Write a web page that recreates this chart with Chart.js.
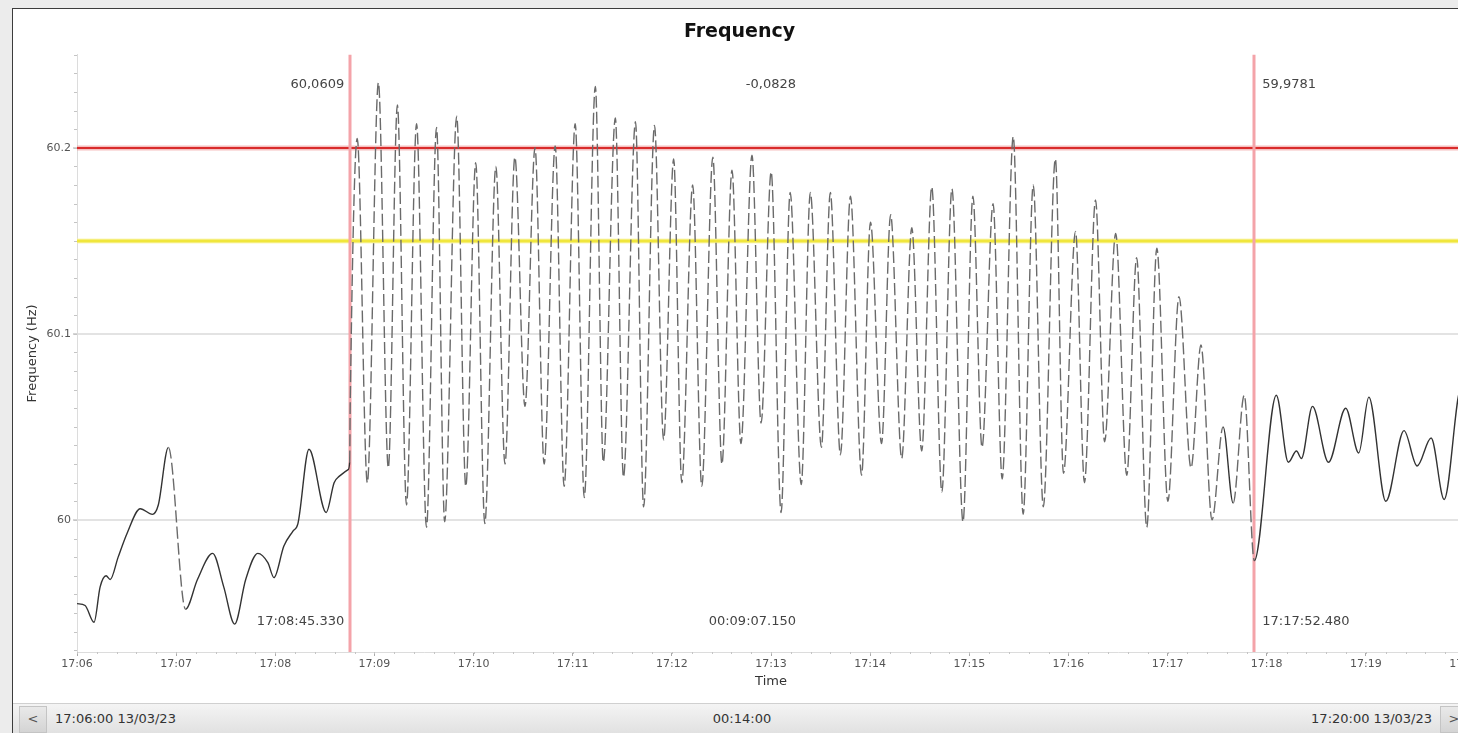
<!DOCTYPE html>
<html>
<head>
<meta charset="utf-8">
<title>Frequency</title>
<script src="https://cdn.jsdelivr.net/npm/chart.js@4.4.1/dist/chart.umd.min.js"></script>
<style>
  html, body { margin: 0; padding: 0; width: 1458px; height: 733px; overflow: hidden; background: #ececec; font-family: "DejaVu Sans", sans-serif; }
  #panel { position: absolute; left: 12px; top: 8px; width: 1480px; height: 740px; border: 1px solid #3c3c3c; background: #fff; }
  #chart { position: absolute; left: 14px; top: 9px; }
  #bar { position: absolute; left: 13px; top: 703px; width: 1480px; height: 31px; background: linear-gradient(#f4f4f4, #e0e0e0); border-top: 1px solid #d0d0d0; font-size: 13px; color: #333; }
  #bar span { position: absolute; top: 7px; white-space: nowrap; }
  .btn { position: absolute; top: 2px; width: 26px; height: 25px; background: linear-gradient(#e9e9e9, #d4d4d4); border: 1px solid #c4c4c4; color: #555; text-align: center; line-height: 24px; font-size: 13px; }
</style>
</head>
<body>
<div id="panel"></div>
<canvas id="chart" width="1480" height="693"></canvas>
<div id="bar">
  <div class="btn" style="left:6px">&lt;</div>
  <span id="barStart" style="left:42px"></span>
  <span id="barSpan" style="left:729px; transform:translateX(-50%)"></span>
  <span id="barEnd" style="right:61px"></span>
  <div class="btn" style="left:1427px">&gt;</div>
</div>
<script>
// time axis in seconds after 17:06:00 on 13/03/23
const startHour = 17;
const startMinute = 6;
const startDate = "13/03/23";
const axisStart = 0;
const axisEnd = 840;

// frequency trace (Hz) at its turning points
const timeSec = [
  0, 4.9, 10.3, 14.0, 17.6, 20.1, 24.9, 30.4, 38.3, 45.6, 49.2, 55.3, 65.7, 72.9, 82.1, 88.8,
  95.4, 102.1, 109.4, 115.5, 119.2, 125.2, 130.7, 133.7, 140.4, 150.8, 155.6, 158.1, 164.1, 165.0, 165.33,
  169.6, 175.7, 182.4, 188.4, 193.9, 199.4, 205.5, 211.5, 217.6, 222.5, 229.8, 235.3, 241.3, 246.8,
  253.5, 259.0, 265.0, 271.1, 277.2, 282.7, 289.4, 294.8, 301.5, 307.0, 313.7, 318.5, 325.8, 330.7,
  338.0, 342.9, 349.5, 355.0, 361.1, 366.0, 372.6, 378.1, 384.8, 390.3, 396.4, 401.8, 408.5, 414.0,
  420.1, 426.1, 431.6, 438.3, 443.8, 450.5, 455.9, 462.0, 468.1, 474.8, 480.2, 486.9, 492.4, 499.1,
  505.2, 511.2, 517.3, 523.4, 529.5, 536.2, 542.2, 547.7, 554.4, 559.9, 566.6, 572.6, 578.7, 584.8,
  592.1, 597.0, 604.3, 609.7, 616.4, 621.9, 628.6, 635.3, 641.3, 647.4, 653.5, 660.2, 666.9, 674.2,
  680.2, 686.9, 693.6, 699.7, 706.4, 712.48,
  725.8, 733.1, 738.0, 741.0, 747.7, 757.4, 767.8, 775.7, 781.8, 792.1, 803.1, 811.0, 819.5, 827.4, 837.7, 840
];
const freqHz = [
  59.955, 59.954, 59.945, 59.964, 59.970, 59.968, 59.980, 59.993, 60.006, 60.003, 60.008, 60.039, 59.952, 59.968, 59.982, 59.964,
  59.944, 59.968, 59.982, 59.977, 59.969, 59.986, 59.994, 59.998, 60.038, 60.004, 60.020, 60.023, 60.027, 60.031, 60.0609,
  60.205, 60.020, 60.235, 60.028, 60.223, 60.008, 60.213, 59.996, 60.211, 59.999, 60.217, 60.018, 60.192, 59.998,
  60.190, 60.030, 60.195, 60.061, 60.200, 60.030, 60.201, 60.018, 60.213, 60.012, 60.233, 60.031, 60.216, 60.023,
  60.214, 60.007, 60.212, 60.043, 60.194, 60.020, 60.180, 60.018, 60.195, 60.030, 60.188, 60.041, 60.196, 60.052,
  60.187, 60.004, 60.176, 60.019, 60.176, 60.039, 60.176, 60.035, 60.174, 60.024, 60.160, 60.041, 60.164, 60.033,
  60.157, 60.037, 60.179, 60.015, 60.178, 59.999, 60.174, 60.039, 60.170, 60.022, 60.206, 60.003, 60.180, 60.007,
  60.194, 60.025, 60.155, 60.020, 60.172, 60.042, 60.154, 60.024, 60.141, 59.996, 60.146, 60.010, 60.120, 60.028,
  60.094, 60.000, 60.050, 60.009, 60.067, 59.9781,
  60.067, 60.031, 60.037, 60.033, 60.061, 60.031, 60.060, 60.036, 60.066, 60.010, 60.048, 60.029, 60.044, 60.011, 60.071, 60.068
];

// y axis
const yMin = 59.929;
const yMax = 60.25;
const yStep = 0.1;

// limit lines and cursors
const limitValues = [60.2, 60.15];
const limitColors = ["#d92b2b", "#f0e63c"];
const cursorTimes = [165.33, 712.48];

function pad(n) {
  return String(n).padStart(2, "0");
}

function hms(total, withSec, withMs) {
  const h = Math.floor(total / 3600);
  const m = Math.floor((total % 3600) / 60);
  const s = total % 60;
  let txt = pad(h) + ":" + pad(m);
  if (!withSec) return txt;
  const whole = Math.floor(s + 1e-6);
  txt += ":" + pad(whole);
  if (withMs) txt += "." + String(Math.round((s - whole) * 1000)).padStart(3, "0");
  return txt;
}

function clock(sec, withSec, withMs) {
  return hms(startHour * 3600 + startMinute * 60 + sec, withSec, withMs);
}

function valueAt(t) {
  return freqHz[timeSec.indexOf(t)];
}

document.getElementById("barStart").textContent = clock(axisStart, true) + " " + startDate;
document.getElementById("barSpan").textContent = hms(axisEnd - axisStart, true);
document.getElementById("barEnd").textContent = clock(axisEnd, true) + " " + startDate;

const points = timeSec.map((t, i) => ({ x: t, y: freqHz[i] }));

function steep(ctx) {
  const dx = Math.abs(ctx.p1.x - ctx.p0.x);
  const dy = Math.abs(ctx.p1.y - ctx.p0.y);
  return dy / Math.max(dx, 1) > 8;
}

const overlay = {
  id: "overlay",
  beforeDatasetsDraw(chart) {
    const { ctx, chartArea: a, scales: { x, y } } = chart;
    ctx.save();

    // minor ticks
    ctx.strokeStyle = "#c4c4c4";
    ctx.lineWidth = 1;
    ctx.beginPath();
    for (let v = 59.93; v <= yMax; v += 0.01) {
      const py = Math.round(y.getPixelForValue(v)) + 0.5;
      ctx.moveTo(a.left - 3, py);
      ctx.lineTo(a.left, py);
    }
    for (let t = axisStart; t <= axisEnd; t += 12) {
      const px = Math.round(x.getPixelForValue(t)) + 0.5;
      ctx.moveTo(px, a.bottom);
      ctx.lineTo(px, a.bottom + 2);
    }
    ctx.stroke();

    // limit lines
    limitValues.forEach((v, i) => {
      const py = Math.round(y.getPixelForValue(v));
      ctx.strokeStyle = i === 0 ? "rgba(240,150,150,0.6)" : "rgba(250,245,170,0.8)";
      ctx.lineWidth = 5;
      ctx.beginPath(); ctx.moveTo(a.left, py); ctx.lineTo(a.right, py); ctx.stroke();
      ctx.strokeStyle = limitColors[i];
      ctx.lineWidth = i === 0 ? 2 : 3;
      ctx.beginPath(); ctx.moveTo(a.left, py); ctx.lineTo(a.right, py); ctx.stroke();
    });

    // cursors
    cursorTimes.forEach(t => {
      const px = Math.round(x.getPixelForValue(t));
      ctx.strokeStyle = "#f4a3a9";
      ctx.lineWidth = 3;
      ctx.beginPath(); ctx.moveTo(px, a.top); ctx.lineTo(px, a.bottom); ctx.stroke();
    });
    ctx.restore();
  },
  afterDatasetsDraw(chart) {
    const { ctx, chartArea: a, scales: { x } } = chart;
    const v0 = valueAt(cursorTimes[0]);
    const v1 = valueAt(cursorTimes[1]);
    const fmt = v => v.toFixed(4).replace(".", ",");
    const topY = a.top + 30;
    const botY = a.bottom - 30;
    const x0 = x.getPixelForValue(cursorTimes[0]);
    const x1 = x.getPixelForValue(cursorTimes[1]);
    const mid = (a.left + a.right) / 2 + 25;

    ctx.save();
    ctx.font = "13px 'DejaVu Sans'";
    ctx.fillStyle = "#444";
    ctx.textBaseline = "middle";

    ctx.textAlign = "right";
    ctx.fillText(fmt(v0), x0 - 6, topY);
    ctx.fillText(clock(cursorTimes[0], true, true), x0 - 6, botY);
    ctx.fillText(fmt(v1 - v0), mid, topY);
    ctx.fillText(hms(cursorTimes[1] - cursorTimes[0], true, true), mid, botY);

    ctx.textAlign = "left";
    ctx.fillText(fmt(v1), x1 + 8, topY);
    ctx.fillText(clock(cursorTimes[1], true, true), x1 + 8, botY);
    ctx.restore();
  }
};

new Chart(document.getElementById("chart"), {
  type: "line",
  data: {
    datasets: [{
      data: points,
      borderColor: "#333",
      borderWidth: 1.4,
      pointRadius: 0,
      cubicInterpolationMode: "monotone",
      segment: {
        borderDash: ctx => steep(ctx) ? [12, 4] : undefined,
        borderColor: ctx => steep(ctx) ? "#6a6a6a" : undefined
      }
    }]
  },
  options: {
    responsive: false,
    devicePixelRatio: 1,
    animation: false,
    layout: { padding: { left: 0, right: 29, top: 0, bottom: 0 } },
    plugins: {
      legend: { display: false },
      tooltip: { enabled: false },
      title: {
        display: true,
        text: "Frequency",
        color: "#111",
        font: { family: "DejaVu Sans", size: 19, weight: "bold" },
        padding: { top: 12, bottom: 11 }
      }
    },
    scales: {
      x: {
        type: "linear",
        min: axisStart,
        max: axisEnd,
        afterFit: scale => { scale.height = 50; },
        ticks: {
          stepSize: 60,
          includeBounds: false,
          maxRotation: 0,
          autoSkip: false,
          color: "#555",
          padding: 2,
          font: { family: "DejaVu Sans", size: 11 },
          callback: v => clock(v, false)
        },
        grid: { drawOnChartArea: false, color: "#aaa", tickLength: 4 },
        border: { color: "#dcdcdc" },
        title: {
          display: true,
          text: "Time",
          color: "#333",
          font: { family: "DejaVu Sans", size: 13 },
          padding: { top: 0, bottom: 13 }
        }
      },
      y: {
        min: yMin,
        max: yMax,
        afterFit: scale => { scale.width = 63; },
        ticks: {
          stepSize: yStep,
          includeBounds: false,
          color: "#555",
          padding: 2,
          font: { family: "DejaVu Sans", size: 11 },
          callback: v => String(parseFloat(v.toFixed(2)))
        },
        grid: { color: "#e3e3e3", lineWidth: 2, tickLength: 4, tickColor: "#aaa", tickWidth: 1 },
        border: { color: "#dcdcdc" },
        title: {
          display: true,
          text: "Frequency (Hz)",
          color: "#333",
          font: { family: "DejaVu Sans", size: 13 },
          padding: { top: 11, bottom: 0 }
        }
      }
    }
  },
  plugins: [overlay]
});
</script>
</body>
</html>
